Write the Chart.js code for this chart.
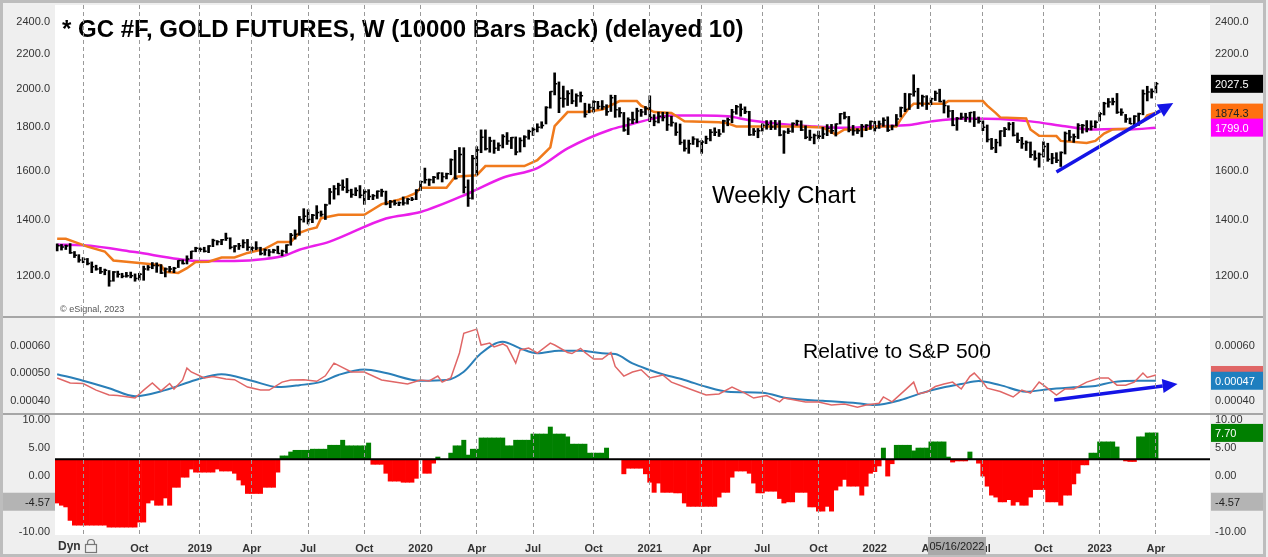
<!DOCTYPE html>
<html>
<head>
<meta charset="utf-8">
<script src="https://cdn.jsdelivr.net/npm/chart.js@4.4.0/dist/chart.umd.min.js"></script>
<style>
  html, body { margin: 0; padding: 0; background: #fff; }
  canvas { display: block; }
</style>
</head>
<body>
<canvas id="chart" width="1268" height="557"></canvas>
<script>
// weekly bars, week 0 = 21 May 2018 ... week 254 = 3 Apr 2023
const highs = [
  1310,1308,1306,1311,1283,1272,1262,1259,1247,1236,1229,1223,1218,1215,1216,1209,1212,1213,1207,1209,
  1233,1235,1245,1244,1238,1227,1232,1229,1252,1254,1268,1284,1298,1296,1298,1304,1327,1322,1326,1349,
  1332,1304,1312,1325,1326,1300,1318,1298,1292,1290,1291,1302,1288,1307,1348,1361,1412,1442,1438,1420,
  1454,1433,1460,1524,1536,1546,1560,1566,1521,1527,1536,1519,1519,1499,1514,1521,1513,1475,1476,1469,
  1489,1483,1487,1519,1555,1611,1564,1575,1590,1591,1589,1652,1691,1704,1703,1560,1668,1708,1788,1788,
  1753,1739,1726,1765,1775,1752,1754,1750,1760,1787,1799,1818,1828,1905,1985,2089,2038,2015,1990,1996,
  1973,1983,1923,1919,1936,1933,1937,1915,1966,1965,1900,1875,1848,1877,1897,1891,1906,1962,1864,1877,
  1876,1876,1856,1823,1817,1740,1739,1755,1745,1737,1758,1790,1798,1790,1836,1847,1891,1912,1919,1904,
  1881,1795,1795,1818,1834,1834,1835,1834,1784,1795,1823,1836,1833,1808,1787,1768,1782,1801,1814,1815,
  1818,1870,1877,1855,1810,1794,1815,1814,1832,1830,1832,1848,1853,1812,1865,1903,1976,1974,2078,2003,
  1966,1963,1950,1988,1998,1940,1910,1886,1850,1872,1871,1876,1880,1852,1833,1812,1747,1743,1784,1800,
  1824,1825,1773,1752,1735,1730,1689,1679,1731,1724,1677,1680,1684,1778,1786,1768,1819,1815,1834,1833,
  1833,1875,1928,1948,1950,1975,1894,1865,1847,1859,1872,1994,2014,2000,2036
];
const lows = [
  1285,1288,1290,1276,1262,1246,1244,1237,1211,1219,1208,1204,1167,1183,1196,1194,1196,1194,1183,1187,
  1186,1219,1224,1212,1208,1197,1213,1211,1228,1240,1240,1258,1282,1283,1281,1279,1300,1306,1307,1322,
  1292,1281,1290,1296,1287,1285,1289,1271,1270,1267,1278,1276,1268,1277,1305,1327,1341,1390,1383,1388,
  1402,1412,1400,1460,1480,1497,1516,1506,1487,1494,1485,1459,1478,1478,1483,1491,1457,1446,1456,1454,
  1456,1460,1474,1478,1515,1546,1536,1547,1563,1551,1564,1582,1563,1591,1505,1451,1480,1581,1680,1692,
  1682,1677,1690,1702,1718,1699,1670,1683,1707,1743,1761,1778,1796,1817,1897,1967,1874,1902,1911,1920,
  1906,1929,1851,1873,1877,1893,1890,1860,1880,1850,1852,1781,1765,1819,1824,1855,1863,1828,1808,1822,
  1832,1785,1806,1761,1718,1687,1677,1718,1707,1677,1722,1735,1760,1756,1776,1808,1823,1866,1856,1869,
  1761,1761,1750,1782,1791,1789,1790,1759,1677,1770,1776,1810,1784,1745,1737,1721,1745,1746,1760,1770,
  1758,1817,1842,1778,1762,1770,1754,1784,1790,1782,1795,1805,1780,1788,1807,1852,1879,1890,1960,1895,
  1907,1890,1915,1937,1930,1872,1850,1808,1786,1840,1829,1826,1804,1821,1784,1730,1695,1680,1711,1755,
  1787,1758,1727,1700,1690,1658,1646,1615,1660,1641,1630,1635,1618,1674,1735,1728,1746,1772,1778,1787,
  1798,1832,1862,1902,1914,1870,1860,1825,1818,1808,1810,1863,1935,1950,1978
];
const closes = [
  1303,1299,1302,1279,1270,1254,1256,1242,1231,1223,1214,1219,1184,1213,1206,1199,1201,1201,1192,1206,
  1223,1229,1235,1235,1210,1223,1223,1226,1252,1242,1257,1284,1294,1291,1284,1302,1322,1318,1325,1330,
  1298,1302,1303,1314,1298,1295,1295,1276,1288,1281,1287,1276,1284,1306,1341,1345,1400,1413,1400,1416,
  1427,1419,1457,1509,1523,1537,1529,1515,1499,1515,1496,1510,1491,1494,1512,1511,1462,1470,1464,1466,
  1465,1480,1480,1516,1552,1560,1560,1571,1589,1573,1586,1648,1566,1672,1529,1484,1654,1693,1752,1698,
  1735,1701,1713,1756,1735,1751,1683,1737,1753,1780,1790,1801,1810,1900,1985,2028,1949,1947,1975,1934,
  1962,1962,1866,1900,1930,1906,1905,1879,1952,1889,1873,1788,1838,1839,1882,1878,1895,1850,1829,1856,
  1850,1813,1824,1777,1728,1699,1721,1744,1732,1730,1745,1777,1777,1768,1832,1838,1877,1905,1891,1879,
  1764,1781,1784,1811,1815,1802,1814,1763,1778,1781,1819,1830,1788,1752,1751,1761,1757,1768,1796,1784,
  1817,1868,1852,1788,1784,1784,1805,1811,1829,1797,1817,1836,1786,1807,1842,1899,1890,1970,1986,1923,
  1957,1922,1946,1976,1932,1911,1882,1811,1844,1851,1850,1875,1840,1830,1801,1742,1703,1727,1782,1791,
  1816,1762,1738,1722,1728,1671,1655,1672,1709,1650,1656,1646,1681,1771,1754,1755,1809,1810,1792,1804,
  1826,1869,1921,1929,1930,1876,1875,1842,1818,1856,1868,1973,1983,1986,2027.5
];

// moving averages: [week, price]
const orangeAvg = [
  [0,1328],[2,1328],[4,1317],[7,1300],[11,1283],[13,1252],[16,1248],[19,1243],[24,1236],[25,1214],
  [28,1210],[30,1226],[32,1247],[35,1248],[38,1262],[41,1262],[44,1278],[48,1292],[51,1317],[54,1317],
  [56,1350],[58,1362],[60,1370],[61,1405],[65,1418],[71,1418],[73,1439],[75,1460],[79,1478],[81,1490],
  [83,1505],[84,1527],[90,1527],[92,1573],[97,1580],[99,1620],[108,1620],[111,1646],[114,1705],[115,1806],
  [118,1877],[122,1877],[126,1890],[130,1934],[134,1934],[135,1910],[138,1877],[142,1872],[145,1830],[153,1825],
  [155,1820],[157,1805],[171,1805],[177,1800],[180,1765],[182,1790],[187,1790],[189,1805],[194,1805],[195,1840],
  [197,1900],[198,1920],[205,1920],[206,1934],[214,1934],[215,1910],[217,1872],[218,1850],[224,1845],[225,1790],
  [227,1760],[231,1758],[232,1735],[238,1725],[240,1735],[242,1770],[244,1790],[248,1795],[251,1830],[252,1860],
  [254,1874.3]
];
const magentaAvg = [
  [0,1307],[6,1305],[18,1281],[28,1257],[33,1250],[41,1250],[48,1257],[53,1271],[56,1289],[63,1318],
  [76,1404],[84,1429],[95,1503],[103,1569],[111,1611],[118,1700],[128,1790],[132,1812],[137,1840],[142,1860],
  [149,1860],[155,1856],[160,1836],[166,1820],[174,1806],[182,1798],[189,1806],[197,1812],[202,1830],[210,1845],
  [218,1842],[225,1830],[233,1806],[239,1790],[245,1792],[248,1790],[254,1799]
];

// relative to S&P 500: [week, ratio]
const relRatio = [
  [0,.000482],[3,.000464],[6,.000462],[9,.000438],[12,.00042],[14,.000418],[18,.000409],[20,.000438],[22,.000464],[24,.000435],
  [26,.000462],[27,.000442],[29,.000475],[30,.000518],[31,.000504],[34,.000482],[36,.000487],[39,.000478],[41,.000476],[44,.000449],
  [47,.000438],[49,.000438],[52,.000467],[54,.000475],[57,.000476],[60,.00047],[62,.00049],[64,.000536],[68,.000504],[71,.000504],
  [75,.000475],[81,.00046],[84,.000475],[86,.000471],[88,.000489],[89,.000467],[91,.000482],[93,.000573],[94,.000645],[97,.00066],
  [98,.000602],[100,.000609],[101,.000595],[103,.000606],[104,.000597],[106,.000536],[107,.000584],[109,.000591],[111,.000573],[114,.000609],
  [115,.000602],[118,.000575],[119,.000571],[121,.00059],[122,.000575],[124,.000551],[126,.000551],[128,.000575],[129,.000524],[131,.000489],
  [133,.000504],[135,.000512],[137,.000482],[139,.000489],[140,.000493],[142,.000467],[145,.000449],[150,.00042],[153,.000424],[156,.000449],
  [159,.000427],[161,.000409],[164,.000418],[167,.000395],[168,.000409],[173,.000395],[176,.000395],[179,.000384],[182,.000387],[185,.000376],
  [187,.000384],[190,.00039],[191,.000413],[193,.000395],[196,.000438],[198,.000467],[199,.000424],[201,.000431],[203,.000451],[205,.00046],
  [207,.000467],[209,.000442],[211,.000488],[212,.0005],[214,.000467],[215,.000445],[218,.000433],[221,.000413],[223,.000438],[225,.000427],
  [227,.000467],[228,.000456],[231,.00042],[233,.000442],[235,.000442],[238,.000467],[241,.000482],[243,.000482],[245,.000456],[247,.000456],
  [249,.000467],[251,.0005],[252,.000484],[254,.000493]
];
const relAvg = [
  [0,.000496],[6,.000472],[12,.000445],[18,.000416],[25,.000438],[32,.000475],[38,.000496],[45,.000472],[51,.000449],[56,.000456],
  [61,.000468],[65,.000493],[71,.000513],[76,.0005],[84,.000472],[90,.000475],[94,.000505],[98,.000572],[103,.000614],[107,.00059],
  [111,.000572],[116,.000581],[121,.000581],[126,.000572],[129,.000569],[133,.000535],[137,.000511],[139,.0005],[145,.000475],[150,.00045],
  [155,.000432],[163,.000428],[169,.000408],[177,.000399],[185,.00039],[189,.000384],[195,.000402],[200,.000428],[205,.000448],[209,.00046],
  [213,.000471],[218,.000456],[224,.000432],[229,.000441],[235,.000448],[240,.000453],[244,.000467],[250,.000472],[254,.000472]
];

// lower histogram, one value per week, bars hang from histBase
const histBase = 3;
const histValues = [
  -4.8,-5.2,-5.5,-7.9,-8.75,-8.75,-8.75,-8.75,-8.75,-8.75,-8.75,-8.75,-9.1,-9.1,-9.1,-9.1,-9.1,-9.1,-9.1,-8.2,
  -8.2,-4.8,-4.3,-5.2,-5.2,-3.9,-5.2,-2,-2,-0.2,-0.2,1.25,0.7,0.7,0.7,0.7,0.7,1.25,0.9,0.9,
  0.9,0.5,-0.7,-1.6,-3.1,-3.1,-3.1,-3.1,-2,-2,-2,0.7,3.6,3.6,4.3,4.6,4.6,4.6,4.6,4.8,
  4.8,4.8,4.8,5.5,5.5,5.5,6.4,5.4,5.4,5.4,5.4,5.4,5.9,2.1,2.1,2.1,0.5,-0.9,-0.9,-0.9,
  -1.1,-1.1,-1.1,-0.4,3,0.5,0.5,2.3,3.4,3,3,4.1,5.4,5.4,6.4,3.75,4.8,4.8,6.8,6.8,
  6.8,6.8,6.8,6.8,5.4,5.4,6.4,6.4,6.4,6.4,7.5,7.5,7.5,7.5,8.75,7.5,7.5,7.5,7,5.7,
  5.7,5.7,5.7,4.1,4.1,4.1,4.1,5,3,3,3,0.4,1.4,1.4,1.4,1.4,0.4,-1.1,-2.9,-1.25,
  -2.9,-2.9,-2.9,-3,-3,-4.8,-5.4,-5.4,-5.4,-5.4,-5.4,-5.4,-5.4,-3.75,-2.9,-2.9,-0.2,0.9,0.9,0.9,
  0.5,-1.25,-3,-3,-2.7,-2.7,-2.7,-4,-4.8,-4.6,-4.6,-2.9,-2.9,-2.9,-5.5,-5.5,-6.25,-6.25,-5.4,-6.25,
  -2.5,-1.8,-0.6,-1.8,-1.8,-1.8,-3.4,-1.8,0.5,0.8,1.8,5,0,2.2,5.5,5.5,5.5,5.5,4.5,5,
  5,5,6.1,6.1,6.1,6.1,3.4,2.5,2.7,2.7,2.7,4.3,3,2.3,0,-1.8,-3.4,-3.75,-4.6,-4.6,
  -4.2,-5.2,-4.6,-5.2,-5.2,-3.75,-2.4,-2.4,-2.4,-4.6,-4.6,-4.6,-5.2,-3.4,-3.4,-1.4,0.5,2,2,4.1,
  4.1,6.1,6.1,6.1,6.1,5.2,3,2.7,2.6,2.6,7,7,7.7,7.7,7.7
];
const histRefLevel = -4.57;

// axis ticks
const tickWeeks = [6, 19, 33, 45, 58, 71, 84, 97, 110, 124, 137, 149, 163, 176, 189, 202, 214, 228, 241, 254];
const tickText = ['', 'Oct', '2019', 'Apr', 'Jul', 'Oct', '2020', 'Apr', 'Jul', 'Oct', '2021', 'Apr', 'Jul', 'Oct', '2022', 'Apr', 'Jul', 'Oct', '2023', 'Apr'];
const priceTicks = [1200, 1400, 1600, 1800, 2000, 2200, 2400];
const relTicks = [0.0004, 0.0005, 0.0006];
const histTicks = [-10, 0, 5, 10];

const cursorWeek = 208;
const cursorText = '05/16/2022';
const priceArrow = [[231, 1594], [258, 1924]];
const relArrow = [[230.5, 0.000402], [259, 0.00046]];

const FONT = "'Liberation Sans', Arial, sans-serif";
const last = arr => arr[arr.length - 1];

function axis(position, weight, type, min, max, tickValues, digits) {
    return {
        type: type,
        position: position,
        stack: position,
        stackWeight: weight,
        min: min,
        max: max,
        grid: { display: false, drawTicks: false },
        border: { display: false },
        afterBuildTicks: s => { s.ticks = tickValues.map(v => ({ value: v })); },
        afterFit: s => {
            s.width = position === 'left' ? 55 : 53;
            s.paddingTop = 0;
            s.paddingBottom = 0;
        },
        ticks: {
            autoSkip: false,
            padding: 5,
            color: '#333',
            font: { family: FONT, size: 11 },
            callback: v => Number(v).toFixed(digits)
        }
    };
}

function drawArrow(ctx, x1, y1, x2, y2) {
    const ang = Math.atan2(y2 - y1, x2 - x1);
    const head = 15, half = 7;
    const bx = x2 - head * Math.cos(ang), by = y2 - head * Math.sin(ang);
    ctx.strokeStyle = '#1414e6';
    ctx.fillStyle = '#1414e6';
    ctx.lineWidth = 3.5;
    ctx.beginPath();
    ctx.moveTo(x1, y1);
    ctx.lineTo(bx, by);
    ctx.stroke();
    ctx.beginPath();
    ctx.moveTo(x2, y2);
    ctx.lineTo(bx + half * Math.sin(ang), by - half * Math.cos(ang));
    ctx.lineTo(bx - half * Math.sin(ang), by + half * Math.cos(ang));
    ctx.closePath();
    ctx.fill();
}

function valueBox(ctx, x, y, w, bg, fg, text) {
    ctx.fillStyle = bg;
    ctx.fillRect(x, y - 9, w, 18);
    ctx.fillStyle = fg;
    ctx.font = '11px ' + FONT;
    ctx.textAlign = 'left';
    ctx.textBaseline = 'middle';
    ctx.fillText(text, x + 4, y + 1);
}

const decor = {
    id: 'decor',
    beforeDraw(chart) {
        const ctx = chart.ctx, a = chart.chartArea;
        ctx.save();
        ctx.fillStyle = '#efefef';
        ctx.fillRect(0, 0, chart.width, chart.height);
        ctx.fillStyle = '#ffffff';
        ctx.fillRect(a.left, a.top, a.right - a.left, a.bottom - a.top);
        ctx.restore();
    },
    afterDatasetsDraw(chart) {
        const ctx = chart.ctx, a = chart.chartArea;
        const xs = chart.scales.x, yp = chart.scales.yPrice, yr = chart.scales.yRel, yh = chart.scales.yHist;
        ctx.save();
        // close ticks of the weekly bars
        ctx.strokeStyle = '#000';
        ctx.lineWidth = 1.5;
        ctx.beginPath();
        closes.forEach((c, i) => {
            const px = xs.getPixelForValue(i), py = yp.getPixelForValue(c);
            ctx.moveTo(px, py);
            ctx.lineTo(px + 2.5, py);
        });
        ctx.stroke();

        // histogram base line
        const by = yh.getPixelForValue(histBase);
        ctx.strokeStyle = '#000';
        ctx.lineWidth = 2;
        ctx.beginPath();
        ctx.moveTo(a.left, by);
        ctx.lineTo(a.right, by);
        ctx.stroke();

        drawArrow(ctx, xs.getPixelForValue(priceArrow[0][0]), yp.getPixelForValue(priceArrow[0][1]),
            xs.getPixelForValue(priceArrow[1][0]), yp.getPixelForValue(priceArrow[1][1]));
        drawArrow(ctx, xs.getPixelForValue(relArrow[0][0]), yr.getPixelForValue(relArrow[0][1]),
            xs.getPixelForValue(relArrow[1][0]), yr.getPixelForValue(relArrow[1][1]));

        ctx.fillStyle = '#000';
        ctx.textAlign = 'left';
        ctx.textBaseline = 'alphabetic';
        ctx.font = 'bold 24px ' + FONT;
        ctx.fillText('* GC #F, GOLD FUTURES, W (10000 Bars Back) (delayed 10)', 62, 37);
        ctx.font = '24px ' + FONT;
        ctx.fillText('Weekly Chart', 712, 203);
        ctx.font = '21px ' + FONT;
        ctx.fillText('Relative to S&P 500', 803, 358);
        ctx.fillStyle = '#555';
        ctx.font = '9px ' + FONT;
        ctx.fillText('\u00A9 eSignal, 2023', 60, 312);
        ctx.restore();
    },
    afterDraw(chart) {
        const ctx = chart.ctx;
        const xs = chart.scales.x;
        const yp = chart.scales.yPriceR, yr = chart.scales.yRelR, yh = chart.scales.yHistR;
        ctx.save();

        // panel separators and frame
        ctx.strokeStyle = '#a6a6a6';
        ctx.lineWidth = 2;
        [chart.scales.yRel.top, chart.scales.yHist.top].forEach(y => {
            ctx.beginPath();
            ctx.moveTo(0, y);
            ctx.lineTo(1264, y);
            ctx.stroke();
        });
        ctx.strokeStyle = '#bdbdbd';
        ctx.lineWidth = 3;
        ctx.strokeRect(1.5, 1.5, 1263, 554);

        // value boxes on the right axis
        const bx = yp.left + 1, bw = yp.right - yp.left - 1;
        valueBox(ctx, bx, yp.getPixelForValue(last(closes)), bw, '#000000', '#ffffff', last(closes).toFixed(1));
        valueBox(ctx, bx, yp.getPixelForValue(last(orangeAvg)[1]), bw, '#ff7010', '#222222', last(orangeAvg)[1].toFixed(1));
        valueBox(ctx, bx, yp.getPixelForValue(last(magentaAvg)[1]), bw, '#ff00ff', '#ffffff', last(magentaAvg)[1].toFixed(1));
        valueBox(ctx, bx, yr.getPixelForValue(last(relRatio)[1]), bw, '#e06666', '#e06666', '');
        valueBox(ctx, bx, yr.getPixelForValue(last(relAvg)[1]), bw, '#1f7fbf', '#ffffff', last(relAvg)[1].toFixed(5));
        valueBox(ctx, bx, yh.getPixelForValue(last(histValues)), bw, '#007f00', '#ffffff', last(histValues).toFixed(2));
        valueBox(ctx, bx, yh.getPixelForValue(histRefLevel), bw, '#b4b4b4', '#222222', histRefLevel.toFixed(2));
        const yl = chart.scales.yHist;
        ctx.fillStyle = '#b4b4b4';
        ctx.fillRect(3, yl.getPixelForValue(histRefLevel) - 9, yl.right - 3, 18);
        ctx.fillStyle = '#222';
        ctx.font = '11px ' + FONT;
        ctx.textAlign = 'right';
        ctx.textBaseline = 'middle';
        ctx.fillText(histRefLevel.toFixed(2), yl.right - 5, yl.getPixelForValue(histRefLevel) + 1);

        // cursor date label on the time axis
        const cx = xs.getPixelForValue(cursorWeek);
        ctx.fillStyle = '#a9a9a9';
        ctx.fillRect(cx - 29, xs.top + 2, 58, 18);
        ctx.fillStyle = '#222';
        ctx.textAlign = 'center';
        ctx.fillText(cursorText, cx, xs.top + 12);

        // "Dyn" and lock
        ctx.textAlign = 'left';
        ctx.font = 'bold 12px ' + FONT;
        ctx.fillStyle = '#333';
        ctx.fillText('Dyn', 58, xs.top + 12);
        ctx.strokeStyle = '#777';
        ctx.lineWidth = 1.2;
        ctx.strokeRect(85.5, xs.top + 9.5, 11, 8);
        ctx.beginPath();
        ctx.arc(91, xs.top + 8, 3.5, Math.PI, 0);
        ctx.lineTo(94.5, xs.top + 9.5);
        ctx.moveTo(87.5, xs.top + 8);
        ctx.lineTo(87.5, xs.top + 9.5);
        ctx.stroke();
        ctx.restore();
    }
};

new Chart(document.getElementById('chart'), {
    type: 'bar',
    data: {
        datasets: [
            {
                type: 'bar',
                label: 'GC #F',
                data: highs.map((h, i) => ({ x: i, y: [lows[i], h] })),
                yAxisID: 'yPrice',
                backgroundColor: '#000000',
                barThickness: 2,
                grouped: false,
                order: 0
            },
            {
                type: 'line',
                label: 'avg 1',
                data: orangeAvg.map(p => ({ x: p[0], y: p[1] })),
                yAxisID: 'yPrice',
                borderColor: '#f07a1c',
                borderWidth: 2.5,
                pointRadius: 0,
                tension: 0,
                order: 1
            },
            {
                type: 'line',
                label: 'avg 2',
                data: magentaAvg.map(p => ({ x: p[0], y: p[1] })),
                yAxisID: 'yPrice',
                borderColor: '#ea1eea',
                borderWidth: 2.5,
                pointRadius: 0,
                cubicInterpolationMode: 'monotone',
                order: 2
            },
            {
                type: 'line',
                label: 'relative',
                data: relRatio.map(p => ({ x: p[0], y: p[1] })),
                yAxisID: 'yRel',
                borderColor: '#e06666',
                borderWidth: 1.5,
                pointRadius: 0,
                tension: 0,
                order: 3
            },
            {
                type: 'line',
                label: 'relative avg',
                data: relAvg.map(p => ({ x: p[0], y: p[1] })),
                yAxisID: 'yRel',
                borderColor: '#2a7fb8',
                borderWidth: 2,
                pointRadius: 0,
                cubicInterpolationMode: 'monotone',
                order: 4
            },
            {
                type: 'bar',
                label: 'histogram',
                data: histValues.map((v, i) => ({ x: i, y: [histBase, v] })),
                yAxisID: 'yHist',
                backgroundColor: histValues.map(v => v >= histBase ? '#008000' : '#ff0000'),
                barPercentage: 1,
                categoryPercentage: 1,
                grouped: false,
                order: 5
            }
        ]
    },
    options: {
        responsive: false,
        animation: false,
        devicePixelRatio: 1,
        layout: { padding: { top: 5, right: 5, bottom: 2, left: 0 } },
        plugins: { legend: { display: false }, tooltip: { enabled: false } },
        scales: {
            x: {
                type: 'linear',
                position: 'bottom',
                min: -0.5,
                max: 266.5,
                offset: false,
                grid: { color: '#9a9a9a', lineWidth: 1, drawTicks: false, offset: false, z: 1 },
                border: { display: false, dash: [4, 3] },
                afterBuildTicks: s => { s.ticks = tickWeeks.map(v => ({ value: v })); },
                afterFit: s => {
                    s.height = 20;
                    s.paddingLeft = 0;
                    s.paddingRight = 0;
                },
                ticks: {
                    autoSkip: false,
                    maxRotation: 0,
                    padding: 7,
                    color: '#333',
                    font: { family: FONT, size: 11, weight: 'bold' },
                    callback: (v, i) => tickText[i]
                }
            },
            yHist: axis('left', 121, 'linear', -10.5, 11.07, histTicks, 2),
            yRel: axis('left', 97, 'linear', 0.000351, 0.000704, relTicks, 5),
            yPrice: axis('left', 312, 'logarithmic', 1073, 2514, priceTicks, 1),
            yPriceR: axis('right', 312, 'logarithmic', 1073, 2514, priceTicks, 1),
            yRelR: axis('right', 97, 'linear', 0.000351, 0.000704, relTicks, 5),
            yHistR: axis('right', 121, 'linear', -10.5, 11.07, histTicks, 2)
        }
    },
    plugins: [decor]
});
</script>
</body>
</html>
